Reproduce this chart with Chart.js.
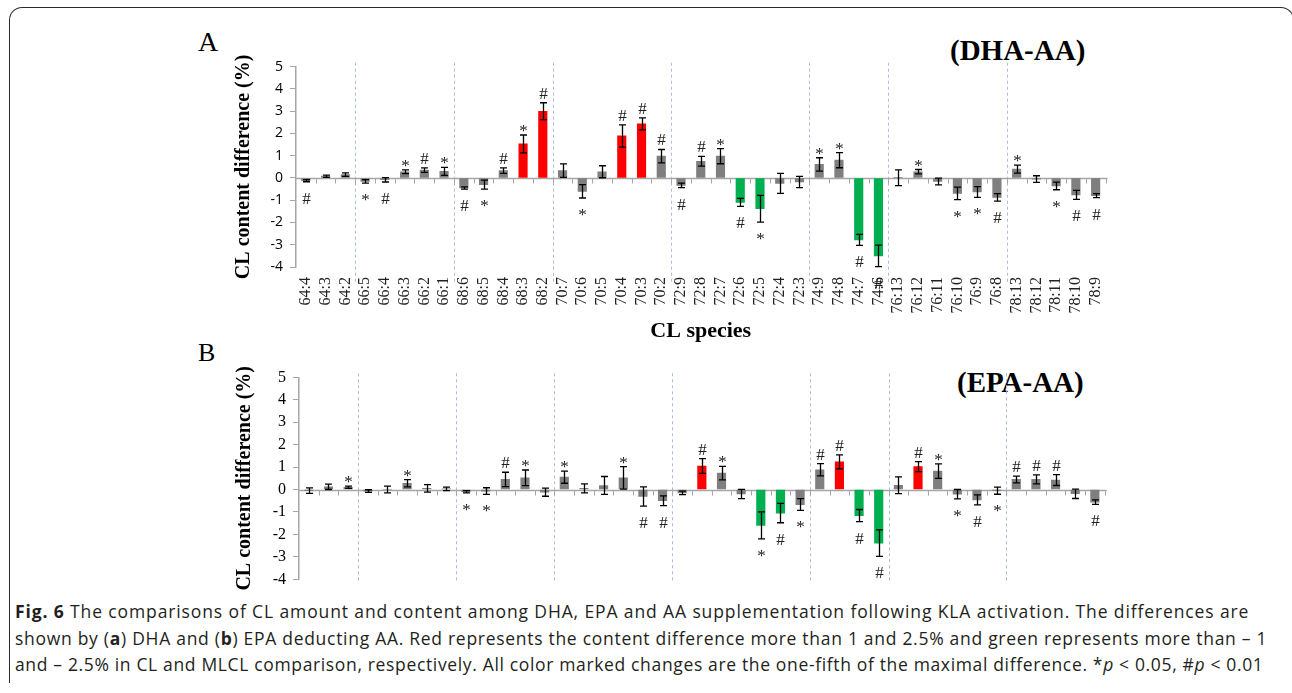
<!DOCTYPE html>
<html>
<head>
<meta charset="utf-8">
<script src="https://cdn.jsdelivr.net/npm/chart.js@4.4.1/dist/chart.umd.min.js"></script>
<style>
    body { margin: 0; width: 1292px; height: 693px; background: #fff; position: relative; overflow: hidden; font-family: "Open Sans", sans-serif; }
    .frame { position: absolute; left: 9px; top: 7px; width: 1285px; height: 676px; border: 1.5px solid #2a2a2a; border-bottom: none; border-radius: 13px 13px 0 0; box-sizing: border-box; z-index: 10; }
    canvas { position: absolute; }
    .panel { position: absolute; font-family: "Liberation Serif", serif; color: #000; white-space: nowrap; }
    .cap { position: absolute; left: 11px; top: 598px; width: 1281px; height: 95px; background: #fff; padding-left: 4px; box-sizing: border-box;
           font-size: 17.5px; line-height: 26.5px; color: #231f20; white-space: nowrap; z-index: 5; }
</style>
</head>
<body>
<div class="frame"></div>

<div class="panel" style="left:198px; top:28px; font-size:28px; line-height:28px;">A</div>
<div class="panel" style="left:950px; top:36px; font-size:29px; line-height:29px; font-weight:bold;">(DHA-AA)</div>
<div class="panel" style="left:198px; top:340px; font-size:26px; line-height:26px;">B</div>
<div class="panel" style="left:957px; top:368px; font-size:29px; line-height:29px; font-weight:bold;">(EPA-AA)</div>

<canvas id="chartA" width="920" height="310" style="left:220px; top:40px;"></canvas>
<canvas id="chartB" width="920" height="247" style="left:220px; top:350px;"></canvas>

<div class="cap">
    <div style="letter-spacing:0.88px"><b>Fig. 6</b> The comparisons of CL amount and content among DHA, EPA and AA supplementation following KLA activation. The differences are</div>
    <div style="letter-spacing:0.71px">shown by (<b>a</b>) DHA and (<b>b</b>) EPA deducting AA. Red represents the content difference more than 1 and 2.5% and green represents more than – 1</div>
    <div style="letter-spacing:0.65px">and – 2.5% in CL and MLCL comparison, respectively. All color marked changes are the one-fifth of the maximal difference. *<i>p</i> &lt; 0.05, #<i>p</i> &lt; 0.01</div>
</div>

<script>
// CL species (x categories)
const speciesLabels = [
    "64:4", "64:3", "64:2",
    "66:5", "66:4", "66:3", "66:2", "66:1",
    "68:6", "68:5", "68:4", "68:3", "68:2",
    "70:7", "70:6", "70:5", "70:4", "70:3", "70:2",
    "72:9", "72:8", "72:7", "72:6", "72:5", "72:4", "72:3",
    "74:9", "74:8", "74:7", "74:6",
    "76:13", "76:12", "76:11", "76:10", "76:9", "76:8",
    "78:13", "78:12", "78:11", "78:10", "78:9",
];

// (A) DHA - AA content difference (%), error and significance mark
const dhaDiff = [
    -0.12, 0.08, 0.15,
    -0.15, -0.08, 0.28, 0.35, 0.30,
    -0.45, -0.30, 0.33, 1.53, 3.00,
    0.33, -0.60, 0.28, 1.89, 2.43, 0.98,
    -0.33, 0.75, 0.98, -1.10, -1.38, -0.24, -0.18,
    0.61, 0.80, -2.78, -3.50,
    0.01, 0.28, -0.16, -0.69, -0.63, -0.87,
    0.40, -0.05, -0.36, -0.76, -0.79,
];
const dhaErr = [
    0.05, 0.05, 0.08,
    0.08, 0.10, 0.08, 0.10, 0.18,
    0.05, 0.20, 0.12, 0.40, 0.38,
    0.30, 0.30, 0.27, 0.50, 0.27, 0.30,
    0.10, 0.22, 0.34, 0.18, 0.60, 0.45, 0.25,
    0.30, 0.34, 0.25, 0.48,
    0.35, 0.10, 0.15, 0.28, 0.24, 0.17,
    0.18, 0.15, 0.17, 0.20, 0.09,
];
const dhaSig = [
    "#", "", "",
    "*", "#", "*", "#", "*",
    "#", "*", "#", "*", "#",
    "", "*", "", "#", "#", "#",
    "#", "#", "*", "#", "*", "", "",
    "*", "*", "#", "#",
    "", "*", "", "*", "*", "#",
    "*", "", "*", "#", "#",
];

// (B) EPA - AA content difference (%), error and significance mark
const epaDiff = [
    -0.05, 0.12, 0.10,
    -0.07, 0.00, 0.28, 0.05, 0.03,
    -0.10, -0.07, 0.45, 0.52, -0.12,
    0.55, 0.05, 0.18, 0.52, -0.31, -0.50,
    -0.15, 1.05, 0.73, -0.20, -1.60, -1.05, -0.67,
    0.88, 1.23, -1.16, -2.39,
    0.19, 1.02, 0.82, -0.21, -0.46, -0.05,
    0.45, 0.45, 0.42, -0.19, -0.56,
];
const epaErr = [
    0.12, 0.12, 0.05,
    0.06, 0.15, 0.16, 0.17, 0.08,
    0.05, 0.15, 0.32, 0.35, 0.18,
    0.27, 0.20, 0.40, 0.50, 0.43, 0.22,
    0.08, 0.33, 0.30, 0.21, 0.60, 0.43, 0.26,
    0.27, 0.31, 0.27, 0.59,
    0.37, 0.22, 0.32, 0.21, 0.22, 0.16,
    0.15, 0.20, 0.24, 0.21, 0.10,
];
const epaSig = [
    "", "", "*",
    "", "", "*", "", "",
    "*", "*", "#", "*", "",
    "*", "", "", "*", "#", "#",
    "", "#", "*", "", "*", "#", "*",
    "#", "#", "#", "#",
    "", "#", "*", "*", "#", "*",
    "#", "#", "#", "", "#",
];

const yMin = -4;
const yMax = 5;

// red above +1, green below -1 (caption rule)
function barColor(v) {
    if (v > 1) return "#ff0000";
    if (v < -1) return "#00b050";
    return "#7f7f7f";
}

function groupOf(label) {
    return label.split(":")[0];
}

const decorPlugin = {
    id: "decor",
    beforeDatasetsDraw(chart, args, opts) {
        const { ctx, chartArea: a, scales: { x, y } } = chart;
        const n = speciesLabels.length;
        const half = (x.getPixelForValue(1) - x.getPixelForValue(0)) / 2;
        ctx.save();

        // dashed separators between chain-length groups
        ctx.strokeStyle = "#a8bce4";
        ctx.lineWidth = 1;
        ctx.setLineDash([3, 3]);
        for (let i = 1; i < n; i++) {
            if (groupOf(speciesLabels[i]) !== groupOf(speciesLabels[i - 1])) {
                const px = Math.round(x.getPixelForValue(i) - half) + 0.5;
                ctx.beginPath();
                ctx.moveTo(px, a.top - 4);
                ctx.lineTo(px, a.bottom + opts.sepBelow);
                ctx.stroke();
            }
        }
        ctx.setLineDash([]);

        // zero line with category tick marks
        const y0 = Math.round(y.getPixelForValue(0)) + 0.5;
        ctx.strokeStyle = "#a6a6a6";
        ctx.lineWidth = 1.5;
        ctx.beginPath();
        ctx.moveTo(a.left, y0);
        ctx.lineTo(a.right + 2, y0);
        ctx.stroke();
        ctx.lineWidth = 1;
        for (let i = 1; i <= n; i++) {
            const px = Math.round(x.getPixelForValue(i) - half) + 0.5;
            ctx.beginPath();
            ctx.moveTo(px, y0);
            ctx.lineTo(px, y0 + 5);
            ctx.stroke();
        }
        ctx.restore();
    },
    afterDatasetsDraw(chart, args, opts) {
        const { ctx, scales: { x, y } } = chart;
        const vals = opts.values, errs = opts.errors, marks = opts.marks;
        ctx.save();
        ctx.strokeStyle = "#000";
        ctx.lineWidth = 1.3;
        ctx.font = '17px "Liberation Serif"';
        ctx.fillStyle = "#222";
        ctx.textAlign = "center";
        ctx.textBaseline = "alphabetic";
        vals.forEach((v, i) => {
            const px = Math.round(x.getPixelForValue(i)) + 0.5;
            const hi = y.getPixelForValue(v + errs[i]);
            const lo = y.getPixelForValue(v - errs[i]);
            ctx.beginPath();
            ctx.moveTo(px, hi); ctx.lineTo(px, lo);
            ctx.moveTo(px - 3.5, hi); ctx.lineTo(px + 3.5, hi);
            ctx.moveTo(px - 3.5, lo); ctx.lineTo(px + 3.5, lo);
            ctx.stroke();

            const m = marks[i];
            if (!m) return;
            let by;
            if (v >= 0) by = hi - 4 + (m === "*" ? 5 : 0);
            else by = lo + 22;
            ctx.fillText(m, px, by);
        });
        ctx.restore();
    },
};

Chart.defaults.font.family = '"Liberation Serif", serif';

function makeChart(canvasId, values, errors, marks, cfg) {
    return new Chart(document.getElementById(canvasId), {
        type: "bar",
        data: {
            labels: speciesLabels,
            datasets: [{
                data: values,
                backgroundColor: values.map(barColor),
                borderWidth: 0,
                barThickness: 8.5,
            }],
        },
        options: {
            responsive: false,
            animation: false,
            devicePixelRatio: 1,
            layout: { padding: cfg.padding },
            plugins: {
                legend: { display: false },
                tooltip: { enabled: false },
                decor: { values, errors, marks, sepBelow: cfg.sepBelow },
            },
            scales: {
                x: {
                    ticks: {
                        display: cfg.showLabels,
                        autoSkip: false,
                        maxRotation: 90,
                        minRotation: 90,
                        padding: 10,
                        color: "#222",
                        font: { family: '"Liberation Serif"', size: 16 },
                    },
                    grid: { display: false, drawTicks: false },
                    border: { display: false },
                    title: {
                        display: cfg.showLabels,
                        text: "CL species",
                        color: "#000",
                        font: { family: '"Liberation Serif"', size: 22, weight: "bold" },
                        padding: { top: 0, bottom: 2 },
                    },
                    afterFit(s) { s.height = cfg.xHeight; },
                },
                y: {
                    min: yMin,
                    max: yMax,
                    ticks: {
                        stepSize: 1,
                        padding: 7,
                        color: "#000",
                        font: cfg.tickFont,
                    },
                    grid: { drawOnChartArea: false, tickLength: 6, color: "#a6a6a6" },
                    border: { color: "#a6a6a6", width: 1.5 },
                    title: {
                        display: true,
                        text: "CL content difference (%)",
                        color: "#000",
                        font: { family: '"Liberation Serif"', size: 20, weight: "bold" },
                        padding: { top: cfg.titlePad, bottom: 0 },
                    },
                    afterFit(s) { s.width = cfg.yWidth; },
                },
            },
        },
        plugins: [decorPlugin],
    });
}

makeChart("chartA", dhaDiff, dhaErr, dhaSig, {
    padding: { top: 26.7, right: 34.5, bottom: 3, left: 0 },
    showLabels: true,
    xHeight: 80,
    yWidth: 76,
    titlePad: 12,
    sepBelow: 16,
    tickFont: { family: '"Open Sans"', size: 14 },
});

makeChart("chartB", epaDiff, epaErr, epaSig, {
    padding: { top: 27.3, right: 35.3, bottom: 0, left: 0 },
    showLabels: false,
    xHeight: 17.7,
    yWidth: 79,
    titlePad: 13,
    sepBelow: 2,
    tickFont: { family: '"Liberation Serif"', size: 16 },
});
</script>
</body>
</html>
